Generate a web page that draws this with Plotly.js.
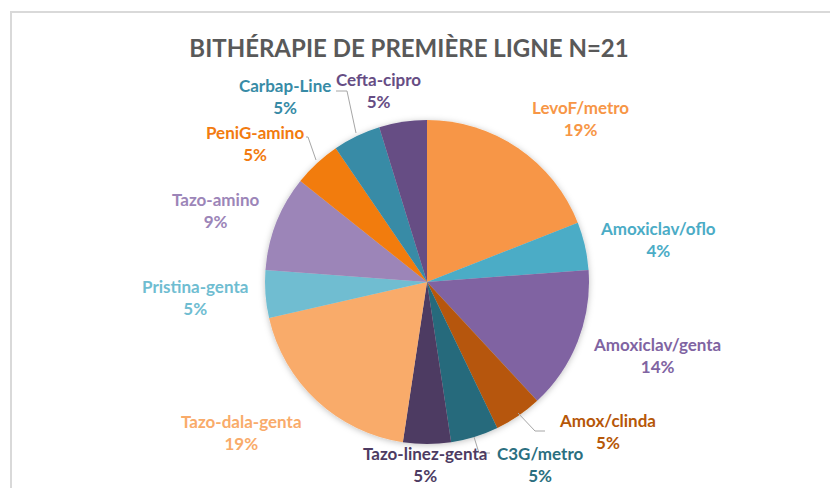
<!DOCTYPE html>
<html>
<head>
<meta charset="utf-8">
<script src="https://cdn.plot.ly/plotly-3.0.1.min.js"></script>
<style>
  html, body { margin: 0; padding: 0; background: #fff; }
  #chart { width: 830px; height: 488px; }
</style>
</head>
<body>
<div id="chart"></div>
<script>
// ---- data ----
const titleText = "BITHÉRAPIE DE PREMIÈRE LIGNE N=21";
const categories = ["LevoF/metro", "Amoxiclav/oflo", "Amoxiclav/genta", "Amox/clinda", "C3G/metro",
  "Tazo-linez-genta", "Tazo-dala-genta", "Pristina-genta", "Tazo-amino", "PeniG-amino", "Carbap-Line", "Cefta-cipro"];
const counts = [4, 1, 3, 1, 1, 1, 4, 1, 2, 1, 1, 1];
const percentLabels = ["19%", "4%", "14%", "5%", "5%", "5%", "19%", "5%", "9%", "5%", "5%", "5%"];

// ---- styles / positions ----
const sliceColors = ["#F79646", "#4BACC6", "#8064A2", "#B65708", "#276A7C", "#4D3B62",
  "#F9AB6A", "#6FBDD1", "#9C85B8", "#F27B10", "#378BA6", "#664D84"];
const labelColors = ["#F79646", "#4BACC6", "#8064A2", "#B65708", "#2B6F80", "#4D3B62",
  "#F9AB6A", "#6FBDD1", "#9C85B8", "#F27B10", "#378BA6", "#664D84"];
// label centre in pixels (x, y of the middle between the two lines)
const labelPos = [[580,118],[658,239],[657,355],[607,431],[540,464],[425,464],
  [241,432],[195,297],[215,211],[255,143],[285,96],[378,90]];
const leaders = [
  [[336,91],[347,91],[356,133]],   // Carbap-Line
  [[306,137],[308,137],[316,160]], // PeniG-amino
  [[518,413],[535,431],[545,431]], // Amox/clinda
  [[474,437],[479,453],[490,453]]  // C3G/metro
];

const W = 830, H = 488;
const px = x => x / W;
const py = y => 1 - y / H;

const cx = 427, cy = 282, r = 162;

const trace = {
  type: "pie",
  labels: categories,
  values: counts,
  sort: false,
  direction: "clockwise",
  rotation: 0,
  textinfo: "none",
  hoverinfo: "label+percent",
  marker: { colors: sliceColors, line: { width: 0 } },
  domain: { x: [px(cx - r), px(cx + r)], y: [py(cy + r), py(cy - r)] },
  showlegend: false
};

const annotations = categories.map((c, i) => ({
  xref: "paper", yref: "paper",
  x: px(labelPos[i][0]), y: py(labelPos[i][1]),
  xanchor: "center", yanchor: "middle",
  text: "<b>" + c + "</b><br><b>" + percentLabels[i] + "</b>",
  showarrow: false,
  align: "center",
  font: { family: "Lato, 'Open Sans', sans-serif", size: 17, color: labelColors[i] }
}));

const shapes = [{
  type: "rect", xref: "paper", yref: "paper",
  x0: px(11), x1: px(900), y0: py(12), y1: py(600),
  line: { color: "#D9D9D9", width: 2 }, fillcolor: "rgba(0,0,0,0)", layer: "below"
}].concat(leaders.map(pts => ({
  type: "path", xref: "paper", yref: "paper",
  path: "M" + pts.map(p => px(p[0]) + "," + py(p[1])).join(" L"),
  line: { color: "#A6A6A6", width: 1 }
})));

const layout = {
  width: W, height: H,
  margin: { l: 0, r: 0, t: 0, b: 0 },
  paper_bgcolor: "#FFFFFF",
  title: {
    text: "<b>" + titleText + "</b>",
    x: px(409), xanchor: "center",
    y: py(49), yanchor: "middle",
    font: { family: "Lato, 'Open Sans', sans-serif", size: 24, color: "#595959" }
  },
  annotations: annotations,
  shapes: shapes
};

Plotly.newPlot("chart", [trace], layout, { displayModeBar: false, staticPlot: true }).then(gd => {
  // soft drop shadow under the pie, as in the reference
  const svg = gd.querySelector("svg.main-svg");
  const ns = "http://www.w3.org/2000/svg";
  let defs = svg.querySelector("defs");
  if (!defs) { defs = document.createElementNS(ns, "defs"); svg.insertBefore(defs, svg.firstChild); }
  const f = document.createElementNS(ns, "filter");
  f.setAttribute("id", "pieShadow");
  f.setAttribute("x", "-20%"); f.setAttribute("y", "-20%");
  f.setAttribute("width", "140%"); f.setAttribute("height", "140%");
  const ds = document.createElementNS(ns, "feDropShadow");
  ds.setAttribute("dx", "0"); ds.setAttribute("dy", "1");
  ds.setAttribute("stdDeviation", "3");
  ds.setAttribute("flood-color", "#000"); ds.setAttribute("flood-opacity", "0.25");
  f.appendChild(ds); defs.appendChild(f);
  gd.querySelectorAll("g.pielayer g.trace").forEach(g => g.setAttribute("filter", "url(#pieShadow)"));
});
</script>
</body>
</html>
